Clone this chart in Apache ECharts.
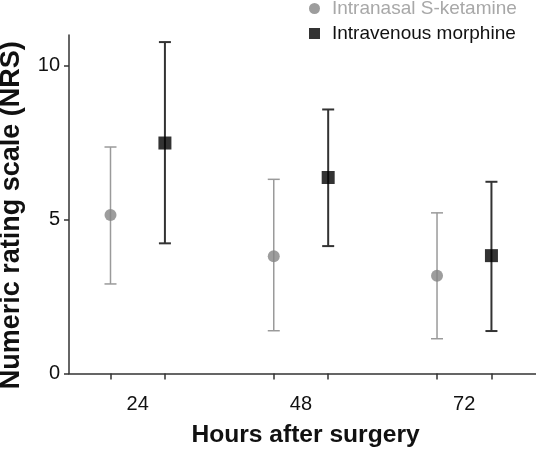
<!DOCTYPE html>
<html><head><meta charset="utf-8">
<script src="https://cdn.jsdelivr.net/npm/echarts@6/dist/echarts.min.js"></script>
<style>html,body{margin:0;padding:0;background:#fff}#c{width:536px;height:452px}</style>
</head><body><div id="c"></div>
<script>
// ---- data ----
const hours = [24, 48, 72];
const ketMean = [5.15, 3.81, 3.18];
const ketLow = [2.91, 1.39, 1.13];
const ketHigh = [7.36, 6.31, 5.22];
const morMean = [7.49, 6.37, 3.83];
const morLow = [4.23, 4.14, 1.38];
const morHigh = [10.77, 8.58, 6.23];
const yTicks = [0, 5, 10];
const seriesNames = ['Intranasal S-ketamine', 'Intravenous morphine'];

// ---- layout / style ----
const OFFSET = 4; // horizontal dodge in hours
const FONT = '"Liberation Sans", Arial, sans-serif';
const ketX = hours.map(h => h - OFFSET);
const morX = hours.map(h => h + OFFSET);
const tickX = hours.flatMap(h => [h - OFFSET, h + OFFSET]);

function errRender(color, width) {
  return function (params, api) {
    const x = api.value(0), lo = api.value(1), hi = api.value(2);
    const a = api.coord([x, lo]), b = api.coord([x, hi]);
    const cap = 6;
    const st = { stroke: color, lineWidth: width };
    return { type: 'group', children: [
      { type: 'line', shape: { x1: a[0], y1: a[1], x2: b[0], y2: b[1] }, style: st },
      { type: 'line', shape: { x1: a[0] - cap, y1: a[1], x2: a[0] + cap, y2: a[1] }, style: st },
      { type: 'line', shape: { x1: b[0] - cap, y1: b[1], x2: b[0] + cap, y2: b[1] }, style: st }
    ]};
  };
}

const chart = echarts.init(document.getElementById('c'), null, { renderer: 'canvas' });
chart.setOption({
  animation: false,
  backgroundColor: '#fff',
  textStyle: { fontFamily: FONT },
  grid: { left: 69, right: 0, top: 35, bottom: 78.5, containLabel: false, outerBoundsMode: 'none' },
  legend: [
    { data: [{ name: seriesNames[0], icon: 'circle', textStyle: { color: '#a8a8a8' } }],
      left: 304, top: -6, itemWidth: 11, itemHeight: 11,
      textStyle: { fontSize: 19, fontFamily: FONT, padding: [0, 0, 0, 7] } },
    { data: [{ name: seriesNames[1], icon: 'rect', textStyle: { color: '#111' } }],
      left: 304, top: 19, itemWidth: 11, itemHeight: 11,
      textStyle: { fontSize: 19, fontFamily: FONT, padding: [0, 0, 0, 7] } }
  ],
  xAxis: {
    type: 'value', min: 13.9, max: 82.55,
    name: 'Hours after surgery', nameLocation: 'middle', nameGap: 49,
    nameTextStyle: { fontSize: 24.6, fontWeight: 'bold', color: '#111', fontFamily: FONT, padding: [0, 0, 0, 6] },
    axisLine: { show: true, lineStyle: { color: '#333', width: 1.5 } },
    axisTick: { show: true, length: 6, lineStyle: { color: '#333', width: 1.5 }, customValues: tickX },
    axisLabel: { fontSize: 20, color: '#111', margin: 21, customValues: hours, fontFamily: FONT },
    splitLine: { show: false }
  },
  yAxis: {
    type: 'value', min: 0, max: 11,
    name: 'Numeric rating scale (NRS)', nameLocation: 'middle', nameGap: 44,
    nameTextStyle: { fontSize: 27, fontWeight: 'bold', color: '#111', fontFamily: FONT, padding: [0, 22, 0, 0] },
    axisLine: { show: true, lineStyle: { color: '#333', width: 1.5 } },
    axisTick: { show: true, length: 5, lineStyle: { color: '#333', width: 1.5 }, customValues: yTicks },
    axisLabel: { fontSize: 20, color: '#111', margin: 9, customValues: yTicks, fontFamily: FONT },
    splitLine: { show: false }
  },
  series: [
    { type: 'custom', name: seriesNames[0] + ' err', renderItem: errRender('#9a9a9a', 1.5),
      encode: { x: 0, y: [1, 2] }, data: ketX.map((x, i) => [x, ketLow[i], ketHigh[i]]), z: 1 },
    { type: 'custom', name: seriesNames[1] + ' err', renderItem: errRender('#333333', 2),
      encode: { x: 0, y: [1, 2] }, data: morX.map((x, i) => [x, morLow[i], morHigh[i]]), z: 1 },
    { type: 'scatter', name: seriesNames[0], symbol: 'circle', symbolSize: 12,
      itemStyle: { color: '#858585' }, data: ketX.map((x, i) => [x, ketMean[i]]), z: 3 },
    { type: 'scatter', name: seriesNames[1], symbol: 'rect', symbolSize: 13,
      itemStyle: { color: '#000' }, data: morX.map((x, i) => [x, morMean[i]]), z: 3 }
  ]
});
</script>
</body></html>
